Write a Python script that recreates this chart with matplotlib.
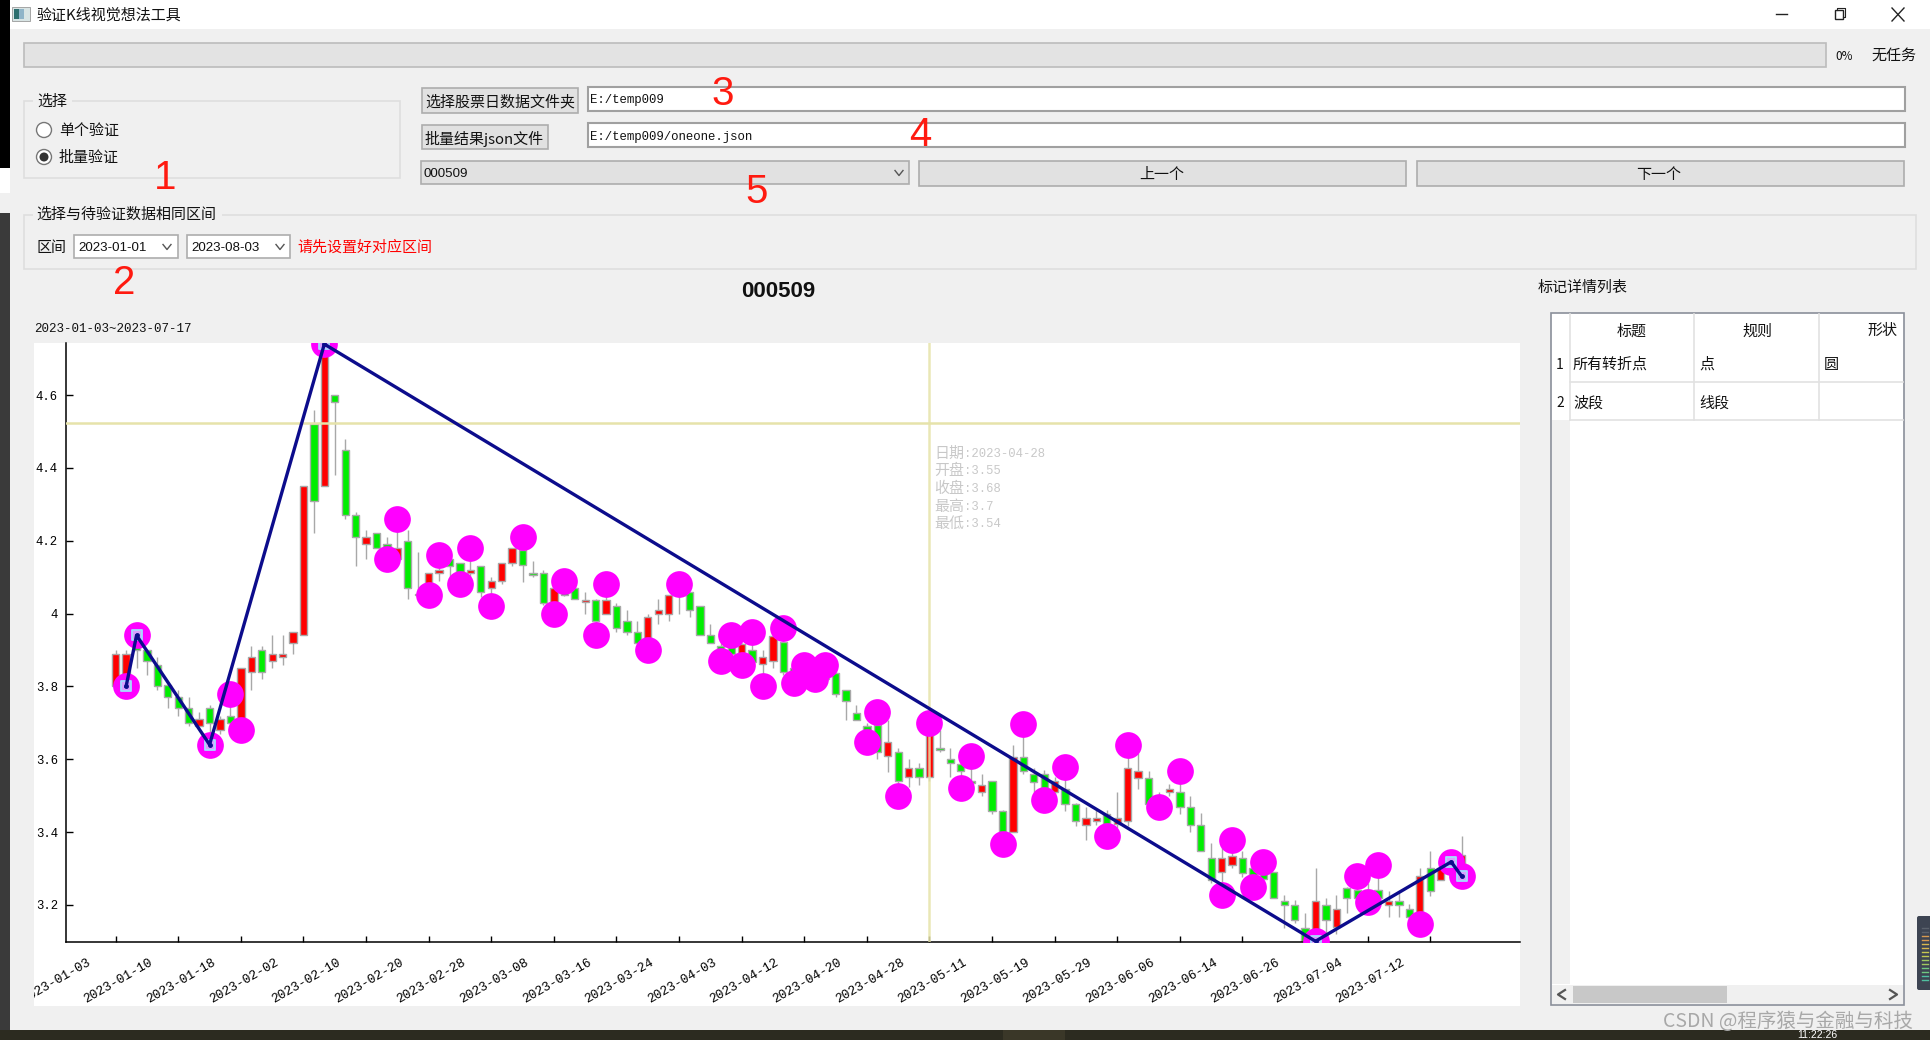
import matplotlib
matplotlib.use('Agg')
import matplotlib.pyplot as plt
from matplotlib.patches import Rectangle, Circle, FancyBboxPatch
from matplotlib.transforms import Bbox, ScaledTranslation, blended_transform_factory

plt.rcParams['font.family'] = ['Noto Sans CJK SC', 'DejaVu Sans']
mono = ['Liberation Mono', 'Noto Sans CJK SC']

# daily bars, one entry per trading day
opens = [3.80, 3.80, 3.91, 3.90, 3.86, 3.805, 3.77, 3.74, 3.69, 3.74,
         3.68, 3.72, 3.71, 3.84, 3.90, 3.87, 3.88, 3.92, 3.94, 4.52,
         4.35, 4.60, 4.45, 4.27, 4.19, 4.22, 4.19, 4.15, 4.20, 4.05,
         4.07, 4.11, 4.15, 4.14, 4.11, 4.13, 4.07, 4.09, 4.14, 4.175,
         4.11, 4.11, 4.03, 4.07, 4.07, 4.033, 4.037, 4.00, 4.02, 3.98,
         3.95, 3.93, 4.00, 4.00, 4.07, 4.058, 4.02, 3.94, 3.91, 3.91,
         3.88, 3.90, 3.861, 3.87, 3.923, 3.85, 3.84, 3.84, 3.84, 3.838,
         3.79, 3.728, 3.69, 3.694, 3.61, 3.62, 3.55, 3.577, 3.55, 3.63,
         3.60, 3.588, 3.54, 3.51, 3.54, 3.457, 3.40, 3.606, 3.56, 3.56,
         3.51, 3.517, 3.477, 3.42, 3.431, 3.449, 3.423, 3.43, 3.549, 3.549,
         3.50, 3.509, 3.509, 3.468, 3.42, 3.33, 3.289, 3.31, 3.33, 3.30,
         3.30, 3.289, 3.21, 3.20, 3.137, 3.12, 3.20, 3.139, 3.247, 3.24,
         3.24, 3.24, 3.20, 3.21, 3.189, 3.17, 3.30, 3.268, 3.30, 3.28]
closes = [3.89, 3.89, 3.90, 3.87, 3.80, 3.77, 3.74, 3.70, 3.71, 3.70,
          3.71, 3.70, 3.85, 3.88, 3.84, 3.89, 3.89, 3.95, 4.35, 4.31,
          4.74, 4.58, 4.27, 4.21, 4.21, 4.18, 4.16, 4.18, 4.07, 4.055,
          4.11, 4.12, 4.13, 4.115, 4.12, 4.06, 4.09, 4.14, 4.18, 4.132,
          4.105, 4.03, 4.07, 4.05, 4.04, 4.037, 3.98, 4.037, 3.96, 3.95,
          3.92, 3.99, 4.01, 4.05, 4.05, 4.01, 3.94, 3.92, 3.89, 3.89,
          3.917, 3.868, 3.88, 3.937, 3.84, 3.83, 3.83, 3.83, 3.82, 3.78,
          3.76, 3.708, 3.66, 3.62, 3.648, 3.54, 3.577, 3.55, 3.68, 3.625,
          3.59, 3.567, 3.535, 3.529, 3.457, 3.40, 3.606, 3.567, 3.538, 3.52,
          3.54, 3.477, 3.43, 3.438, 3.438, 3.423, 3.438, 3.577, 3.567, 3.478,
          3.48, 3.519, 3.468, 3.42, 3.347, 3.267, 3.328, 3.335, 3.288, 3.27,
          3.27, 3.218, 3.20, 3.158, 3.10, 3.21, 3.158, 3.189, 3.218, 3.22,
          3.22, 3.22, 3.21, 3.20, 3.168, 3.279, 3.237, 3.30, 3.29, 3.338]
highs = [3.90, 3.90, 3.94, 3.90, 3.88, 3.81, 3.79, 3.77, 3.73, 3.75,
         3.72, 3.78, 3.85, 3.91, 3.91, 3.94, 3.94, 3.95, 4.35, 4.56,
         4.74, 4.60, 4.48, 4.28, 4.23, 4.22, 4.21, 4.26, 4.23, 4.17,
         4.11, 4.16, 4.16, 4.14, 4.18, 4.13, 4.10, 4.14, 4.18, 4.21,
         4.143, 4.12, 4.07, 4.09, 4.07, 4.06, 4.04, 4.08, 4.03, 4.01,
         3.98, 4.00, 4.04, 4.05, 4.08, 4.06, 4.02, 3.97, 3.93, 3.94,
         3.92, 3.95, 3.90, 3.94, 3.96, 3.86, 3.86, 3.85, 3.86, 3.84,
         3.79, 3.75, 3.70, 3.73, 3.708, 3.63, 3.60, 3.59, 3.70, 3.68,
         3.63, 3.60, 3.61, 3.56, 3.54, 3.46, 3.64, 3.698, 3.575, 3.57,
         3.55, 3.578, 3.48, 3.47, 3.46, 3.46, 3.51, 3.638, 3.617, 3.567,
         3.51, 3.533, 3.567, 3.499, 3.451, 3.37, 3.36, 3.379, 3.349, 3.31,
         3.318, 3.29, 3.228, 3.213, 3.179, 3.30, 3.218, 3.228, 3.25, 3.279,
         3.26, 3.309, 3.238, 3.238, 3.202, 3.30, 3.349, 3.30, 3.318, 3.389]
lows = [3.80, 3.80, 3.85, 3.83, 3.79, 3.74, 3.72, 3.69, 3.69, 3.64,
        3.67, 3.70, 3.68, 3.79, 3.82, 3.85, 3.86, 3.89, 3.94, 4.22,
        4.35, 4.38, 4.26, 4.13, 4.15, 4.18, 4.15, 4.15, 4.04, 4.05,
        4.05, 4.09, 4.10, 4.08, 4.10, 4.045, 4.02, 4.08, 4.13, 4.088,
        4.10, 4.024, 4.00, 4.047, 4.04, 4.00, 3.94, 4.00, 3.95, 3.94,
        3.92, 3.90, 3.97, 3.98, 4.00, 3.99, 3.94, 3.92, 3.87, 3.88,
        3.86, 3.868, 3.80, 3.85, 3.83, 3.81, 3.82, 3.82, 3.81, 3.77,
        3.708, 3.708, 3.648, 3.60, 3.566, 3.50, 3.525, 3.53, 3.54, 3.62,
        3.55, 3.52, 3.535, 3.50, 3.45, 3.368, 3.40, 3.56, 3.507, 3.489,
        3.50, 3.457, 3.417, 3.378, 3.42, 3.389, 3.412, 3.417, 3.517, 3.47,
        3.468, 3.50, 3.449, 3.40, 3.347, 3.26, 3.228, 3.30, 3.276, 3.25,
        3.26, 3.218, 3.137, 3.15, 3.10, 3.10, 3.123, 3.12, 3.179, 3.21,
        3.209, 3.213, 3.168, 3.168, 3.168, 3.147, 3.225, 3.268, 3.28, 3.279]

# all turning points, drawn as the big circles
dot_idx = [1, 2, 9, 11, 12, 20, 26, 27, 30, 31, 33, 34, 36, 39, 42, 43, 46, 47,
           51, 54, 58, 59, 60, 61, 62, 64, 65, 66, 67, 68, 72, 73, 75, 78, 81,
           82, 85, 87, 89, 91, 95, 97, 100, 102, 106, 107, 109, 110, 115, 119,
           120, 121, 125, 128, 129]
dot_val = [3.80, 3.94, 3.64, 3.78, 3.68, 4.74, 4.15, 4.26, 4.05, 4.16, 4.08, 4.18,
           4.02, 4.21, 4.00, 4.09, 3.94, 4.08, 3.90, 4.08, 3.87, 3.94, 3.86, 3.95,
           3.80, 3.96, 3.81, 3.86, 3.82, 3.86, 3.648, 3.73, 3.50, 3.70, 3.52, 3.61,
           3.368, 3.698, 3.489, 3.578, 3.389, 3.638, 3.468, 3.567, 3.228, 3.379,
           3.25, 3.318, 3.10, 3.279, 3.209, 3.309, 3.147, 3.318, 3.279]

# wave segments
wave_idx = [1, 2, 9, 20, 115, 128, 129]
wave_val = [3.80, 3.94, 3.64, 4.74, 3.10, 3.318, 3.279]

first_date = '2023-01-03'
tick_dates = ['2023-01-10', '2023-01-18', '2023-02-02', '2023-02-10', '2023-02-20',
              '2023-02-28', '2023-03-08', '2023-03-16', '2023-03-24', '2023-04-03',
              '2023-04-12', '2023-04-20', '2023-04-28', '2023-05-11', '2023-05-19',
              '2023-05-29', '2023-06-06', '2023-06-14', '2023-06-26', '2023-07-04',
              '2023-07-12', '']
y_ticks = [3.2, 3.4, 3.6, 3.8, 4.0, 4.2, 4.4, 4.6]
y_labels = ['3.2', '3.4', '3.6', '3.8', '4', '4.2', '4.4', '4.6']

cross_idx = 78
cross_val = 4.523
tip_names = ['日期', '开盘', '收盘', '最高', '最低']
tip_vals = ['2023-04-28', '3.55', '3.68', '3.7', '3.54']

table_head = ['标题', '规则', '形状']
table_rows = [['所有转折点', '点', '圆'], ['波段', '线段', '']]

meter_colors = ['#5a616c', '#5a616c', '#d89a50', '#d89a50', '#d8b850', '#d8b850', '#c8c850',
                '#c0c850', '#a0c860', '#a0c860', '#70c880', '#70c880', '#50c0a0', '#50c0a0']

W, H = 1930, 1040
fig = plt.figure(figsize=(W / 100, H / 100), dpi=100, facecolor='#f0f0f0')

# window chrome is drawn in pixel coordinates
ui = fig.add_axes([0, 0, 1, 1])
ui.set_xlim(0, W)
ui.set_ylim(H, 0)
ui.axis('off')


def box(x0, y0, x1, y1, fc='none', ec='none', lw=1.0, z=1):
    ui.add_patch(Rectangle((x0, y0), x1 - x0, y1 - y0, fc=fc, ec=ec, lw=lw, zorder=z))


def txt(x, y, s, size=10.8, color='#111111', ha='left', **kw):
    kw.setdefault('zorder', 5)
    return ui.text(x, y + 3.2, s, fontsize=size, color=color, ha=ha, va='center', **kw)


def arrow(x, y):
    ui.plot([x - 4, x, x + 4], [y - 2.5, y + 2.5, y - 2.5], color='#555555', lw=1, zorder=5)


# screen behind the window
box(0, 0, 10, 168, fc='black')
box(0, 168, 10, 193, fc='white')
box(0, 213, 10, 1030, fc='#3a3a3a')
box(0, 1030, W, H, fc='#2c2b20')
box(1003, 1030, 1065, H, fc='#3a3728')
txt(1817, 1032, '11:22:26', size=7.5, color='white', ha='center', family='Liberation Sans')
box(10, 0, W, 29, fc='white')

# title bar
box(12, 7, 30, 21, fc='#d8e4e4', ec='#999999', lw=0.6)
box(14, 9, 19, 19, fc='#2c6e6e')
box(19, 9, 24, 19, fc='#8fb4c8')
txt(37, 12, '验证K线视觉想法工具')
ui.plot([1776, 1787], [14, 14], color='#222222', lw=1)
box(1835, 10, 1843, 19, ec='#222222', lw=1)
ui.plot([1837, 1837, 1845, 1845, 1843], [10, 8, 8, 17, 17], color='#222222', lw=0.8)
ui.plot([1892, 1904], [8, 21], color='#222222', lw=1)
ui.plot([1892, 1904], [21, 8], color='#222222', lw=1)

# progress row
box(24, 43, 1826, 67, fc='#e3e3e3', ec='#bcbcbc', lw=1.2)
txt(1844, 53, '0%', size=8.5, ha='center')
txt(1871, 52, '无任务')

# selection group
box(24, 101, 400, 178, ec='#dedede', lw=1.2)
box(33, 92, 72, 108, fc='#f0f0f0', z=2)
txt(37, 98, '选择')
for ry, name, on in [(130, '单个验证', False), (157, '批量验证', True)]:
    ui.add_patch(Circle((44, ry), 7.5, fc='white', ec='#777777', lw=1, zorder=3))
    if on:
        ui.add_patch(Circle((44, ry), 4.5, fc='#333333', zorder=4))
    txt(59, ry - 2, name)

# file pickers
box(422, 88, 578, 113, fc='#e1e1e1', ec='#adadad', lw=1.2)
txt(425, 99, '选择股票日数据文件夹')
box(422, 125, 548, 149, fc='#e1e1e1', ec='#adadad', lw=1.2)
txt(425, 135.5, '批量结果json文件')
box(588, 87, 1905, 111, fc='white', ec='#a0a0a0', lw=1.5)
txt(590, 97, 'E:/temp009', size=8.9, family=mono)
box(588, 123, 1905, 147, fc='white', ec='#a0a0a0', lw=1.5)
txt(590, 134, 'E:/temp009/oneone.json', size=8.9, family=mono)

# stock selector row
box(421, 161, 909, 184, fc='#e1e1e1', ec='#adadad', lw=1.2)
txt(424, 170.5, '000509', size=9.6, family='Liberation Sans')
arrow(899, 173)
box(919, 161, 1406, 186, fc='#e1e1e1', ec='#adadad', lw=1.2)
txt(1162, 171.5, '上一个', ha='center')
box(1417, 161, 1904, 186, fc='#e1e1e1', ec='#adadad', lw=1.2)
txt(1659, 171.5, '下一个', ha='center')

# date range group
box(24, 215, 1916, 269, ec='#dedede', lw=1.2)
box(33, 206, 222, 222, fc='#f0f0f0', z=2)
txt(36, 211.5, '选择与待验证数据相同区间')
txt(36, 244.5, '区间')
box(74, 235, 178, 258, fc='white', ec='#adadad', lw=1.2)
txt(78, 244.5, '2023-01-01', size=9.6, family='Liberation Sans')
arrow(167, 247)
box(187, 235, 290, 258, fc='white', ec='#adadad', lw=1.2)
txt(191, 244.5, '2023-08-03', size=9.6, family='Liberation Sans')
arrow(280, 247)
txt(297, 244.5, '请先设置好对应区间', color='#ff0000')

# red step numbers pasted over the screenshot
for nx, ny, num in [(165, 175, '1'), (124, 280, '2'), (723, 91, '3'), (920, 132, '4'), (757, 189, '5')]:
    txt(nx, ny, num, size=29, color='#ff1a10', ha='center', family='Liberation Sans', zorder=9)

# chart panel
box(34, 343, 1520, 1006, fc='white')
txt(778, 288.5, '000509', size=16, ha='center', family='Liberation Sans', fontweight='bold')
txt(34, 325.5, first_date + '~2023-07-17', size=9, family=mono)

# detail table
txt(1538, 285, '标记详情列表')
box(1551, 313, 1904, 1005, fc='white', ec='#8a8f9a', lw=1.2)
box(1552, 420, 1570, 984, fc='#f0f0f0', z=2)
for lx in [1570, 1694, 1819]:
    ui.plot([lx, lx], [314, 420], color='#e2e2e2', lw=1.2, zorder=2)
for ly in [382, 420]:
    ui.plot([1570, 1903], [ly, ly], color='#e2e2e2', lw=1.2, zorder=2)
for hx, head in zip([1632, 1757, 1882], table_head):
    txt(hx, 328, head, ha='center')
for ry, num, row in zip([361.5, 400], ['1', '2'], table_rows):
    txt(1560, ry, num, ha='center', size=10)
    for cx, cell in zip([1573, 1699, 1824], row):
        txt(cx, ry, cell)
box(1552, 985, 1903, 1004, fc='#f0f0f0', z=2)
box(1573, 986, 1727, 1003, fc='#c8c8c8', z=3)
ui.plot([1565, 1558, 1565], [990, 994.5, 999], color='#555555', lw=1.6, zorder=4)
ui.plot([1890, 1897, 1890], [990, 994.5, 999], color='#555555', lw=1.6, zorder=4)

# little meter at the right edge of the screen
ui.add_patch(FancyBboxPatch((1919, 918), 14, 70, boxstyle='round,pad=2', fc='#3d4452', ec='none', zorder=2))
for k, mc in enumerate(meter_colors):
    my = 928 + k * 4
    ui.plot([1922, 1928], [my, my], color=mc, lw=1, zorder=3)

txt(1663, 1018.5, 'CSDN @程序猿与金融与科技', size=14, color='#a8a8a8', zorder=9)

# chart itself
ax = fig.add_axes([65.7 / W, (H - 942) / H, (1520 - 65.7) / W, (942 - 343) / H])
ax.patch.set_alpha(0)
ax.set_xlim(-4.79, 134.6)
ax.set_ylim(3.098, 4.743)
for side in ['top', 'right']:
    ax.spines[side].set_visible(False)
for side in ['left', 'bottom']:
    ax.spines[side].set_linewidth(1.1)

days = list(range(len(opens)))
body_bottom = [min(o, c) for o, c in zip(opens, closes)]
body_height = [max(abs(c - o), 0.002) for o, c in zip(opens, closes)]
colors = ['#ff0000' if c >= o else '#00ee00' for o, c in zip(opens, closes)]
ax.vlines(days, lows, highs, color='#a8a8a8', lw=1, zorder=2)
ax.bar(days, body_height, bottom=body_bottom, width=0.7, color=colors,
       edgecolor='#a8a8a8', linewidth=1, zorder=2.5)

ax.axvline(cross_idx, color='#e6e3aa', lw=1.8, alpha=0.85, zorder=3)
ax.axhline(cross_val, color='#e6e3aa', lw=1.8, zorder=3)

ax.scatter(dot_idx, dot_val, s=370, color='#ff00ff', linewidths=0, zorder=4)
ax.scatter(wave_idx, wave_val, s=48, marker='s', facecolor='#d8a0ff', edgecolor='#a4dcff',
           linewidths=1.3, zorder=5)
ax.plot(wave_idx, wave_val, color='#0c0c8c', lw=2.4, zorder=6)
ax.plot(wave_idx, wave_val, ls='none', marker='o', ms=2.5, color='#0c0c8c', zorder=6)

# crosshair readout
for n, (name, val) in enumerate(zip(tip_names, tip_vals)):
    ty = 450.5 + n * 17.6
    txt(934, ty, name, color='#c8c8c8', zorder=8)
    txt(964, ty, ':' + val, size=8.8, color='#c8c8c8', family=mono, zorder=8)

tick_pos = [i * 6 for i in range(len(tick_dates))]
ax.set_xticks(tick_pos)
ax.set_xticklabels(tick_dates, rotation=30, ha='center', family=mono, fontsize=9.3)
ax.set_yticks(y_ticks)
ax.set_yticklabels(y_labels, family=mono, fontsize=8.8)
ax.tick_params(axis='x', direction='in', length=4.5, width=1, pad=10.3)
ax.tick_params(axis='y', direction='in', length=5, width=1, pad=5.5)
shift = ScaledTranslation(3 / 100, 0, fig.dpi_scale_trans)
for lab in ax.get_xticklabels():
    lab.set_transform(lab.get_transform() + shift)

# the first date label sits left of the axis and is cut by the panel edge
panel = Bbox([[34, H - 1006], [1520, H - 343]])
first = ax.text(-6, -14.5 / (942 - 343), first_date,
                transform=blended_transform_factory(ax.transData, ax.transAxes) + shift,
                rotation=30, ha='center', va='top', family=mono, fontsize=9.3)
first.set_clip_box(panel)
first.set_clip_on(True)

fig.savefig('out.png', dpi=100)
